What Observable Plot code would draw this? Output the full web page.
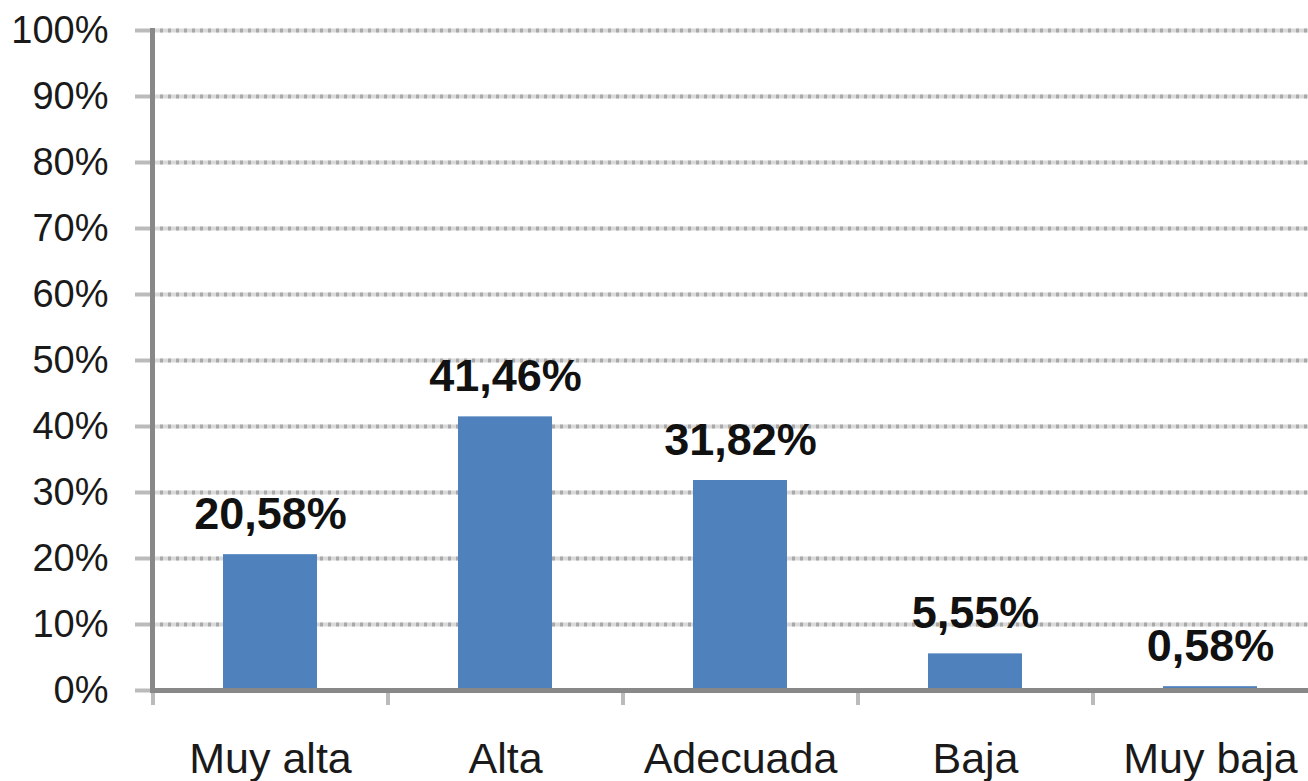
<!DOCTYPE html>
<html><head><meta charset="utf-8">
<script src="https://cdn.jsdelivr.net/npm/d3@7"></script>
<script src="https://cdn.jsdelivr.net/npm/@observablehq/plot@0.6"></script>
<style>body{margin:0;background:#fff} svg{display:block}</style>
</head><body><div id="chart"></div>
<script>
const categories = ["Muy alta", "Alta", "Adecuada", "Baja", "Muy baja"];
const values = [0.2058, 0.4146, 0.3182, 0.0555, 0.0058];
const valueLabels = ["20,58%", "41,46%", "31,82%", "5,55%", "0,58%"];
const yTicks = [0, 0.1, 0.2, 0.3, 0.4, 0.5, 0.6, 0.7, 0.8, 0.9, 1];
const yTickLabels = ["0%", "10%", "20%", "30%", "40%", "50%", "60%", "70%", "80%", "90%", "100%"];

const data = categories.map((c, i) => ({category: c, value: values[i], label: valueLabels[i]}));
const gridTicks = yTicks.slice(1);

const chart = Plot.plot({
  width: 1308,
  height: 781,
  marginLeft: 152,
  marginRight: 0,
  marginTop: 30,
  marginBottom: 91,
  style: {fontFamily: "'Liberation Sans', Arial, sans-serif", background: "#fff", overflow: "hidden"},
  x: {domain: categories, range: [152, 1327], paddingInner: 0.6, paddingOuter: 0.3, label: null},
  y: {domain: [0, 1], label: null},
  marks: [
    Plot.ruleY(gridTicks, {stroke: "#d9d9d9", strokeWidth: 4}),
    Plot.ruleY(gridTicks, {stroke: "#a9a9a9", strokeWidth: 4, strokeDasharray: "3,5"}),
    Plot.axisY({
      ticks: yTicks,
      tickFormat: d => yTickLabels[yTicks.indexOf(d)],
      tickSize: 17,
      tickPadding: 27,
      stroke: "#bbbbbb",
      strokeWidth: 4,
      fill: "#1a1a1a",
      fontSize: 38,
      label: null
    }),
    Plot.axisX({
      tickSize: 15,
      dx: -117.5,
      tickFormat: () => "",
      stroke: "#bbbbbb",
      strokeWidth: 4,
      label: null
    }),
    Plot.axisX({
      tickSize: 0,
      tickPadding: 52,
      fill: "#1a1a1a",
      fontSize: 43,
      label: null
    }),
    Plot.barY(data, {x: "category", y: "value", fill: "#4f81bd"}),
    Plot.frame({anchor: "left", stroke: "#888888", strokeWidth: 5}),
    Plot.ruleY([0], {stroke: "#888888", strokeWidth: 5}),
    Plot.text(data, {
      x: "category", y: "value", text: "label",
      dy: -40, fontSize: 45, fontWeight: "bold", fill: "#111111"
    })
  ]
});
document.getElementById("chart").appendChild(chart);
</script>
</body></html>
